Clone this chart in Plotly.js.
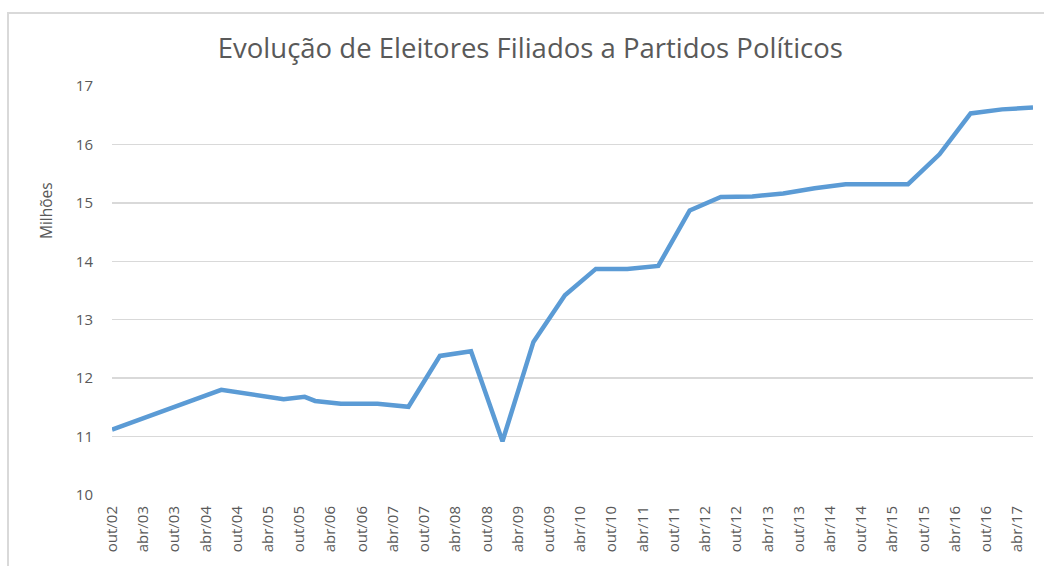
<!DOCTYPE html>
<html>
<head>
<meta charset="utf-8">
<script src="https://cdn.plot.ly/plotly-3.0.1.min.js"></script>
<style>
  html, body { margin: 0; padding: 0; background: #ffffff; overflow: hidden; }
  #wrap { position: relative; width: 1044px; height: 566px; }
  #frame { position: absolute; left: 7px; top: 12px; width: 1200px; height: 700px;
           border-left: 2px solid #d9d9d9; border-top: 2px solid #d9d9d9; pointer-events: none; }
  #chart { position: absolute; left: 0; top: 0; width: 1044px; height: 566px; }
</style>
</head>
<body>
<div id="wrap">
  <div id="frame"></div>
  <div id="chart"></div>
</div>
<script>
// Data
const dates = ['2002-10-01','2004-07-01','2005-07-01','2005-11-01','2006-01-01','2006-06-01',
               '2007-01-01','2007-07-01','2008-01-01','2008-07-01','2009-01-01','2009-07-01',
               '2010-01-01','2010-07-01','2011-01-01','2011-07-01','2012-01-01','2012-07-01',
               '2013-01-01','2013-07-01','2014-01-01','2014-07-01','2015-07-01','2016-01-01',
               '2016-07-01','2017-01-01','2017-07-01'];
const filiados = [11.12, 11.80, 11.64, 11.68, 11.61, 11.56,
                  11.56, 11.51, 12.38, 12.46, 10.92, 12.62,
                  13.42, 13.87, 13.87, 13.92, 14.87, 15.10,
                  15.11, 15.16, 15.25, 15.32, 15.32, 15.83,
                  16.53, 16.60, 16.63];
const tickDates = ['2002-10-01','2003-04-01','2003-10-01','2004-04-01','2004-10-01','2005-04-01',
                   '2005-10-01','2006-04-01','2006-10-01','2007-04-01','2007-10-01','2008-04-01',
                   '2008-10-01','2009-04-01','2009-10-01','2010-04-01','2010-10-01','2011-04-01',
                   '2011-10-01','2012-04-01','2012-10-01','2013-04-01','2013-10-01','2014-04-01',
                   '2014-10-01','2015-04-01','2015-10-01','2016-04-01','2016-10-01','2017-04-01'];
const tickLabels = ['out/02','abr/03','out/03','abr/04','out/04','abr/05','out/05','abr/06','out/06','abr/07',
                    'out/07','abr/08','out/08','abr/09','out/09','abr/10','out/10','abr/11','out/11','abr/12',
                    'out/12','abr/13','out/13','abr/14','out/14','abr/15','out/15','abr/16','out/16','abr/17'];
const chartTitle = 'Evolução de Eleitores Filiados a Partidos Políticos';
const yTitle = 'Milhões';

const font = '"Open Sans", sans-serif';
const grey = '#595959';

const trace = {
  x: dates, y: filiados, type: 'scatter', mode: 'lines',
  line: { color: '#5b9bd5', width: 4.5 }, hoverinfo: 'x+y'
};

const layout = {
  width: 1044, height: 566,
  margin: { l: 112, r: 11, t: 86, b: 71 },
  paper_bgcolor: 'rgba(0,0,0,0)', plot_bgcolor: 'rgba(0,0,0,0)',
  showlegend: false,
  font: { family: font, color: grey, size: 14 },
  title: { text: chartTitle, font: { family: font, size: 27.5, color: grey },
           x: 0.508, xanchor: 'center', y: 0.915, yanchor: 'middle', xref: 'container', yref: 'container' },
  xaxis: {
    type: 'date', range: ['2002-10-01', '2017-07-01'],
    tickmode: 'array', tickvals: tickDates, ticktext: tickLabels,
    tickangle: -90, tickfont: { family: font, size: 15, color: grey },
    showgrid: false, zeroline: false, showline: false, ticks: '',
    ticklabelstandoff: 7
  },
  yaxis: {
    range: [10, 17], dtick: 1, tick0: 10,
    showgrid: true, gridcolor: '#d9d9d9', gridwidth: 1.5,
    zeroline: false, showline: false, ticks: '',
    tickfont: { family: font, size: 15, color: grey },
    ticklabelstandoff: 18
  },
  annotations: [{
    text: yTitle, textangle: -90, xref: 'paper', yref: 'paper',
    x: (46 - 112) / 921, y: (495 - 211) / 409, xanchor: 'center', yanchor: 'middle',
    showarrow: false, font: { family: font, size: 15.5, color: grey }
  }]
};

Plotly.newPlot('chart', [trace], layout, { displayModeBar: false, staticPlot: true });
</script>
</body>
</html>
